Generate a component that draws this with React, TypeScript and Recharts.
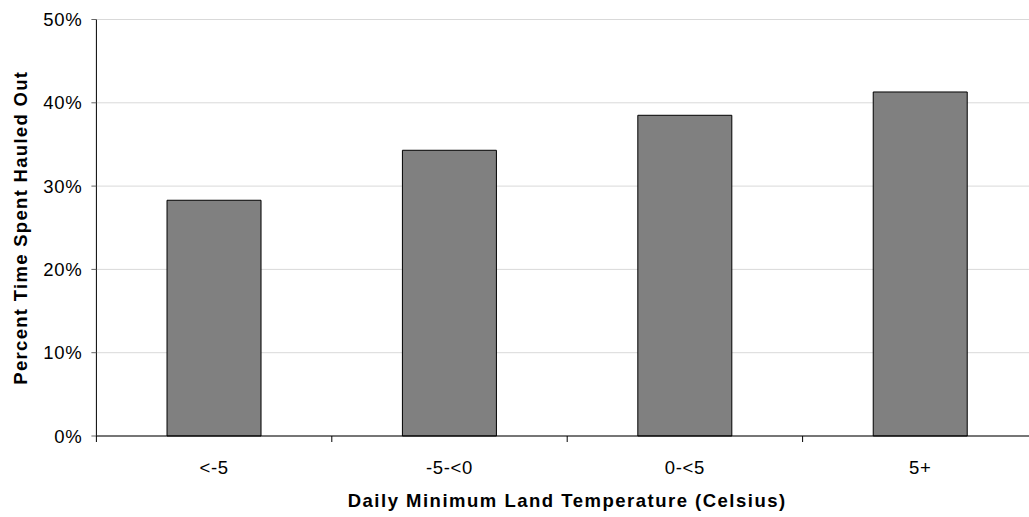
import React from "react";
import { BarChart, Bar, XAxis, YAxis, CartesianGrid } from "recharts";

const categories = ["<-5", "-5-<0", "0-<5", "5+"];
const percentHauledOut = [28.3, 34.3, 38.5, 41.3];
const yTicks = [0, 10, 20, 30, 40, 50];

const data = categories.map((name, i) => ({ name, value: percentHauledOut[i] }));

const FONT = "'Liberation Sans', Arial, sans-serif";
const X_TICK_SIZE = 6;
const X_TICK_MARGIN = 19;

// Excel style: the tick mark sits on the boundary between categories, label in the middle
const CategoryTick = (props: any) => {
  const { x, y, payload } = props;
  const half = payload?.offset ?? 0;
  const axisY = y - X_TICK_SIZE - X_TICK_MARGIN;
  return (
    <g>
      <line x1={x - half} x2={x - half} y1={axisY} y2={axisY + X_TICK_SIZE} stroke="#000" />
      <text
        x={x}
        y={y}
        dy="0.71em"
        textAnchor="middle"
        fontSize={18.5}
        letterSpacing={0.7}
        fill="#000"
        fontFamily={FONT}
      >
        {payload.value}
      </text>
    </g>
  );
};

const YTitle = ({ viewBox }: any) => {
  const cx = viewBox.x + 26.5;
  const cy = viewBox.y + viewBox.height / 2;
  return (
    <text
      transform={`translate(${cx},${cy}) rotate(-90)`}
      textAnchor="middle"
      fontSize={18.5}
      letterSpacing={1.3}
      fontWeight="bold"
      fontFamily={FONT}
      fill="#000"
    >
      Percent Time Spent Hauled Out
    </text>
  );
};

const App = () => {
  return (
    <div style={{ position: "absolute", left: 0, top: 0, width: 1029, height: 517, overflow: "hidden", background: "#fff" }}>
      <BarChart
        width={1038}
        height={517}
        data={data}
        barCategoryGap="30%"
        margin={{ top: 19.5, right: 0, left: 0, bottom: 0 }}
      >
        <CartesianGrid vertical={false} stroke="#d9d9d9" />
        <XAxis
          dataKey="name"
          height={81}
          stroke="#000"
          tickLine={false}
          tickSize={X_TICK_SIZE}
          tickMargin={X_TICK_MARGIN}
          tick={<CategoryTick />}
          interval={0}
          label={{
            value: "Daily Minimum Land Temperature (Celsius)",
            position: "insideBottom",
            offset: 10,
            fontSize: 18.5,
            letterSpacing: 1.5,
            fontWeight: "bold",
            fontFamily: FONT,
            fill: "#000",
          }}
        />
        <YAxis
          width={96.4}
          domain={[0, 50]}
          ticks={yTicks}
          interval={0}
          tickFormatter={(v: number) => `${v}%`}
          tickSize={5}
          tickMargin={9}
          stroke="#000"
          tickLine={{ stroke: "#666" }}
          tick={{ fontSize: 18.5, letterSpacing: 0.7, fill: "#000", fontFamily: FONT }}
          label={<YTitle />}
        />
        <Bar dataKey="value" fill="#808080" stroke="#000" strokeWidth={1} isAnimationActive={false} />
      </BarChart>
    </div>
  );
};

export default App;
